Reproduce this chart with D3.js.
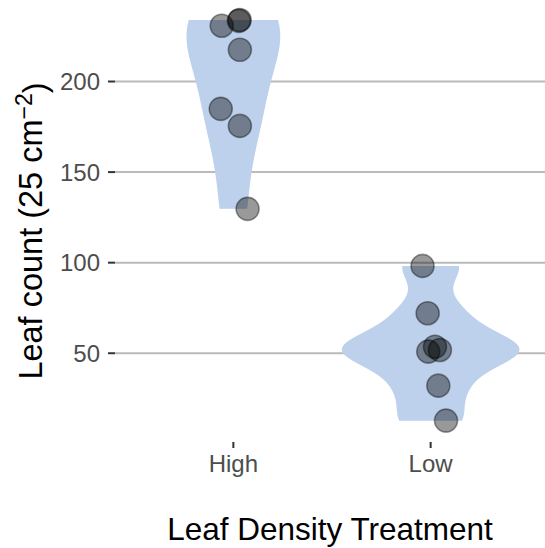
<!DOCTYPE html>
<html>
<head>
<meta charset="utf-8">
<script src="https://cdn.jsdelivr.net/npm/d3@7"></script>
<style>
  html, body { margin: 0; padding: 0; background: #fff; }
  svg { display: block; font-family: "Liberation Sans", Arial, Helvetica, sans-serif; }
</style>
</head>
<body>
<div id="chart"></div>
<script>
// Leaf counts per treatment
var categories = ["High", "Low"];
var highCounts = [230.8, 233.5, 234, 217.5, 184.9, 175.5, 129.7];
var lowCounts = [98.2, 72.1, 53.6, 51.8, 50.9, 32.1, 12.8];
// horizontal jitter of each point, in category units
var highJitter = [-0.059, 0.028, 0.032, 0.033, -0.064, 0.033, 0.072];
var lowJitter = [-0.041, -0.015, 0.022, 0.047, -0.012, 0.039, 0.078];
var yTicks = [50, 100, 150, 200];

var width = 545,
  height = 548;
var panel = { left: 115, right: 549, top: 0, bottom: 442 };

var svg = d3
  .select("#chart")
  .append("svg")
  .attr("width", width)
  .attr("height", height);

// continuous x like ggplot's discrete axis: categories at 1, 2 with 0.6 expansion
var x = d3
  .scaleLinear()
  .domain([0.4, categories.length + 0.6])
  .range([panel.left, panel.right]);

var y = d3
  .scaleLinear()
  .domain([1, 245])
  .range([panel.bottom, panel.top]);

var groups = [
  { name: "High", pos: 1, values: highCounts, jitter: highJitter },
  { name: "Low", pos: 2, values: lowCounts, jitter: lowJitter },
];

// bandwidth as in R's bw.nrd0
function nrd0(v) {
  var sorted = v.slice().sort(d3.ascending);
  var iqr = d3.quantileSorted(sorted, 0.75) - d3.quantileSorted(sorted, 0.25);
  var lo = Math.min(d3.deviation(v), iqr / 1.34);
  return 0.9 * lo * Math.pow(v.length, -0.2);
}

function kde(values, bw) {
  var lo = d3.min(values),
    hi = d3.max(values);
  return d3.range(512).map(function (i) {
    var t = lo + (i * (hi - lo)) / 511;
    var s = d3.sum(values, function (v) {
      var u = (t - v) / bw;
      return Math.exp(-0.5 * u * u) / Math.sqrt(2 * Math.PI);
    });
    return { v: t, d: s / (values.length * bw) };
  });
}

groups.forEach(function (g) {
  g.density = kde(g.values, nrd0(g.values));
});
var maxDensity = d3.max(groups, function (g) {
  return d3.max(g.density, function (p) { return p.d; });
});

// gridlines
svg
  .append("g")
  .selectAll("line")
  .data(yTicks)
  .join("line")
  .attr("x1", panel.left)
  .attr("x2", panel.right)
  .attr("y1", function (d) { return y(d); })
  .attr("y2", function (d) { return y(d); })
  .attr("stroke", "#bababa")
  .attr("stroke-width", 2);

// violins (scale = "area", width 0.9)
var area = d3
  .area()
  .y(function (p) { return y(p.v); })
  .x0(function (p) { return x(p.pos - 0.45 * p.d / maxDensity); })
  .x1(function (p) { return x(p.pos + 0.45 * p.d / maxDensity); });

svg
  .append("g")
  .selectAll("path")
  .data(groups)
  .join("path")
  .attr("d", function (g) {
    return area(g.density.map(function (p) { return { v: p.v, d: p.d, pos: g.pos }; }));
  })
  .attr("fill", "#bdd0ec");

// jittered points
var points = [];
groups.forEach(function (g) {
  g.values.forEach(function (v, i) {
    points.push({ pos: g.pos + g.jitter[i], value: v });
  });
});

svg
  .append("g")
  .selectAll("circle")
  .data(points)
  .join("circle")
  .attr("cx", function (d) { return x(d.pos); })
  .attr("cy", function (d) { return y(d.value); })
  .attr("r", 11.5)
  .attr("fill", "#000")
  .attr("fill-opacity", 0.4)
  .attr("stroke", "#000")
  .attr("stroke-opacity", 0.4)
  .attr("stroke-width", 1.6);

// y axis
var yAxis = svg.append("g").attr("transform", "translate(" + panel.left + ",0)");
yAxis
  .selectAll("line")
  .data(yTicks)
  .join("line")
  .attr("x1", -7)
  .attr("x2", 0)
  .attr("y1", function (d) { return y(d); })
  .attr("y2", function (d) { return y(d); })
  .attr("stroke", "#333")
  .attr("stroke-width", 2);
yAxis
  .selectAll("text")
  .data(yTicks)
  .join("text")
  .attr("x", -15)
  .attr("y", function (d) { return y(d); })
  .attr("dy", "0.36em")
  .attr("text-anchor", "end")
  .attr("fill", "#4d4d4d")
  .style("font-size", "24px")
  .text(function (d) { return d; });

// x axis
var xAxis = svg.append("g").attr("transform", "translate(0," + panel.bottom + ")");
xAxis
  .selectAll("line")
  .data(categories)
  .join("line")
  .attr("x1", function (d, i) { return x(i + 1); })
  .attr("x2", function (d, i) { return x(i + 1); })
  .attr("y1", 0)
  .attr("y2", 6)
  .attr("stroke", "#333")
  .attr("stroke-width", 2);
xAxis
  .selectAll("text")
  .data(categories)
  .join("text")
  .attr("x", function (d, i) { return x(i + 1); })
  .attr("y", 30)
  .attr("text-anchor", "middle")
  .attr("fill", "#4d4d4d")
  .style("font-size", "24px")
  .text(function (d) { return d; });

// axis titles
svg
  .append("text")
  .attr("x", (panel.left + panel.right) / 2 - 2)
  .attr("y", 540)
  .attr("text-anchor", "middle")
  .attr("fill", "#000")
  .style("font-size", "31.5px")
  .text("Leaf Density Treatment");

var yTitle = svg
  .append("text")
  .attr("transform", "translate(42,231) rotate(-90)")
  .attr("text-anchor", "middle")
  .attr("fill", "#000")
  .style("font-size", "32.5px");
yTitle.append("tspan").text("Leaf count (25 cm");
yTitle
  .append("tspan")
  .attr("dy", "-0.45em")
  .style("font-size", "23px")
  .text("\u22122");
yTitle.append("tspan").attr("dy", "0.45em").text(")");
</script>
</body>
</html>
